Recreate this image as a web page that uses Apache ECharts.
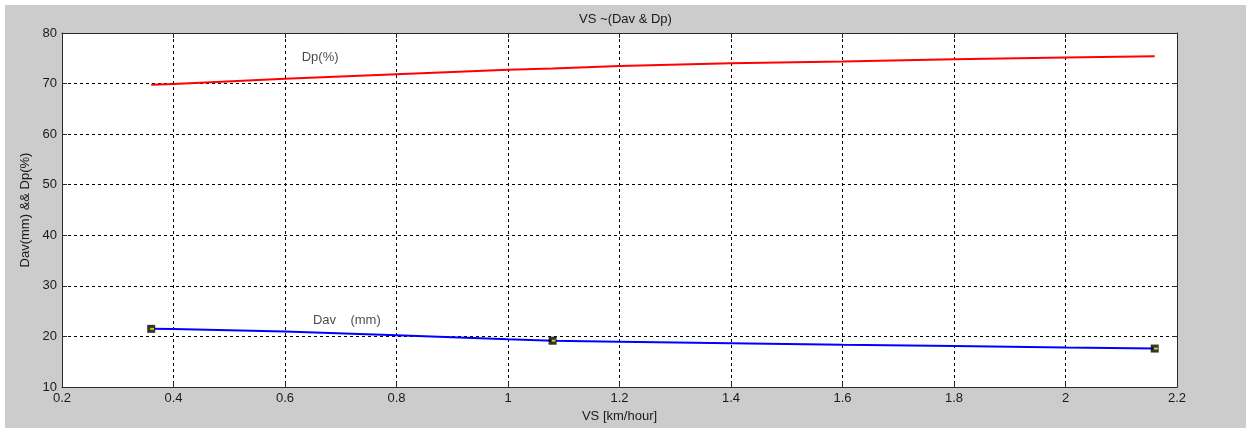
<!DOCTYPE html>
<html>
<head>
<meta charset="utf-8">
<script src="https://cdn.jsdelivr.net/npm/echarts@6/dist/echarts.min.js"></script>
<style>
  html, body { margin: 0; padding: 0; background: #ffffff; }
  #chart { position: absolute; left: 5px; top: 5px; width: 1241px; height: 423px; background: #cccccc; }
</style>
</head>
<body>
<div id="chart"></div>
<script>
// VS [km/hour]
const vsValues = [0.36, 0.4, 0.6, 0.8, 1.0, 1.08, 1.2, 1.4, 1.6, 1.8, 2.0, 2.16];
// Dp (%)
const dpValues = [69.75, 69.9, 70.95, 71.85, 72.75, 73.0, 73.45, 74.0, 74.35, 74.8, 75.15, 75.4];
// Dav (mm)
const davValues = [21.5, 21.45, 20.95, 20.25, 19.45, 19.15, 18.95, 18.65, 18.35, 18.1, 17.8, 17.6];
// marked Dav points
const markVs = [0.36, 1.08, 2.16];
const markDav = [21.5, 19.15, 17.6];
// in-plot text labels: [x, y, text]
const notes = [
  [0.63, 75.1, 'Dp(%)'],
  [0.65, 23.1, 'Dav    (mm)'],
];
const xTicks = {min: 0.2, max: 2.2, step: 0.2};
const yTicks = {min: 10, max: 80, step: 10};

const font = 'Arial, "Liberation Sans", sans-serif';
const ink = '#1a1a1a';

function pairs(xs, ys) {
  return xs.map((x, i) => [x, ys[i]]);
}

const axisBase = {
  type: 'value',
  axisLine: {show: true, onZero: false, lineStyle: {color: '#2a2a2a', width: 1}},
  axisTick: {show: true, inside: true, length: 5, lineStyle: {color: '#2a2a2a', width: 1}},
};

const chart = echarts.init(document.getElementById('chart'), null, {renderer: 'canvas'});
chart.setOption({
  backgroundColor: '#cccccc',
  animation: false,
  title: {
    text: 'VS ~(Dav & Dp)',
    left: 'center',
    top: 3,
    textStyle: {fontFamily: font, fontSize: 13, fontWeight: 'normal', color: ink},
  },
  grid: {left: 57, top: 28, width: 1115, height: 354, show: true, backgroundColor: '#ffffff', borderWidth: 0},
  xAxis: [
    Object.assign({}, axisBase, {
      position: 'bottom',
      min: xTicks.min, max: xTicks.max, interval: xTicks.step,
      name: 'VS [km/hour]',
      nameLocation: 'middle',
      nameGap: 17,
      nameTextStyle: {fontFamily: font, fontSize: 13, color: ink},
      axisLabel: {margin: 5, fontFamily: font, fontSize: 13, color: ink},
      splitLine: {show: true, lineStyle: {color: '#000000', type: [3, 3], width: 1}},
    }),
    Object.assign({}, axisBase, {
      position: 'top',
      min: xTicks.min, max: xTicks.max, interval: xTicks.step,
      axisLabel: {show: false},
      splitLine: {show: false},
    }),
  ],
  yAxis: [
    Object.assign({}, axisBase, {
      position: 'left',
      min: yTicks.min, max: yTicks.max, interval: yTicks.step,
      name: 'Dav(mm) && Dp(%)',
      nameLocation: 'middle',
      nameGap: 30,
      nameRotate: 90,
      nameTextStyle: {fontFamily: font, fontSize: 13, color: ink},
      axisLabel: {margin: 5, fontFamily: font, fontSize: 13, color: ink},
      splitLine: {show: true, lineStyle: {color: '#000000', type: [3, 3], width: 1}},
    }),
    Object.assign({}, axisBase, {
      position: 'right',
      min: yTicks.min, max: yTicks.max, interval: yTicks.step,
      axisLabel: {show: false},
      splitLine: {show: false},
    }),
  ],
  series: [
    {
      name: 'Dp',
      type: 'line',
      data: pairs(vsValues, dpValues),
      showSymbol: false,
      lineStyle: {color: '#ff0000', width: 2},
      z: 3,
    },
    {
      name: 'Dav',
      type: 'line',
      data: pairs(vsValues, davValues),
      showSymbol: false,
      lineStyle: {color: '#0000ff', width: 2},
      z: 3,
    },
    {
      name: 'marks',
      type: 'scatter',
      data: pairs(markVs, markDav),
      symbol: 'rect',
      symbolSize: 8,
      itemStyle: {color: '#000000'},
      z: 4,
    },
    {
      name: 'marksInner',
      type: 'scatter',
      data: pairs(markVs, markDav),
      symbol: 'rect',
      symbolSize: [4, 2],
      symbolOffset: [1, 0],
      itemStyle: {color: '#ffff00'},
      z: 5,
    },
    {
      name: 'notes',
      type: 'scatter',
      data: notes.map(n => ({value: [n[0], n[1]], text: n[2]})),
      symbolSize: 0,
      silent: true,
      label: {
        show: true,
        position: 'right',
        distance: 0,
        formatter: p => p.data.text,
        fontFamily: font,
        fontSize: 13,
        color: ink,
      },
      z: 6,
    },
  ],
});
</script>
</body>
</html>
